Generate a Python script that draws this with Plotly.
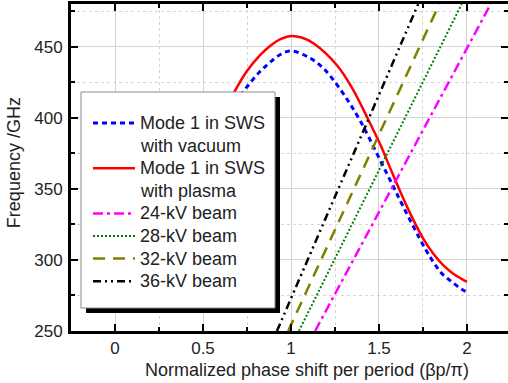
import plotly.graph_objects as go

# ---- data ----
phase_vac = [0.0, 0.25, 0.5, 0.729, 0.824, 0.881, 0.94, 1.0, 1.108, 1.174, 1.222,
             1.316, 1.401, 1.487, 1.563, 1.638, 1.761, 1.809, 1.856, 1.913, 1.97, 2.0]
freq_vac = [278, 311, 372, 418.3, 432.5, 439, 444.5, 447, 442, 436, 429.5,
            413.5, 396.1, 375, 356.2, 337.4, 308.2, 298.5, 290.6, 284.7, 279.3, 277.5]

phase_pl = [0.0, 0.25, 0.5, 0.682, 0.748, 0.824, 0.881, 0.94, 1.0, 1.06, 1.127,
            1.26, 1.354, 1.44, 1.506, 1.581, 1.657, 1.752, 1.809, 1.866,
            1.922, 2.0]
freq_pl = [283, 314.5, 377, 419, 432.5, 444, 450.5, 455.3, 457.5, 456.4, 452.4,
           437.1, 419.5, 398.4, 381.5, 359.5, 338, 314.8, 304.3, 296.1,
           290.3, 284.5]

beam_freq = [250, 480]
beam24_phase = [1.137, 2.135]
beam28_phase = [1.045, 1.970]
beam32_phase = [0.984, 1.843]
beam36_phase = [0.920, 1.723]

series_names = [["Mode 1 in SWS", "with vacuum"], ["Mode 1 in SWS", "with plasma"],
                ["24-kV beam"], ["28-kV beam"], ["32-kV beam"], ["36-kV beam"]]

x_ticks = [0, 0.5, 1, 1.5, 2]
x_ticklabels = ["0", "0.5", "1", "1.5", "2"]
y_ticks = [250, 300, 350, 400, 450]

FONT = "Liberation Sans, Arial, sans-serif"
TXT = "#222222"

styles = [dict(color="#0000FF", width=3, dash="5px,4px"),
          dict(color="#FF0000", width=2.5),
          dict(color="#FF00FF", width=2.5, dash="10px,4px,3px,4px"),
          dict(color="#008000", width=2, dash="2px,2px"),
          dict(color="#808000", width=2.5, dash="12px,8px"),
          dict(color="#000000", width=2.5, dash="8px,4px,2px,4px,2px,4px")]

xs = [phase_vac, phase_pl, beam24_phase, beam28_phase, beam32_phase, beam36_phase]
ys = [freq_vac, freq_pl, beam_freq, beam_freq, beam_freq, beam_freq]

fig = go.Figure()
for i in range(6):
    fig.add_trace(go.Scatter(x=xs[i], y=ys[i], mode="lines",
                             line_shape="spline" if i < 2 else "linear",
                             name="<br>".join(series_names[i]),
                             line=styles[i], showlegend=False))
# helper trace for right-side ticks
fig.add_trace(go.Scatter(x=[None], y=[None], yaxis="y2", showlegend=False,
                         hoverinfo="skip"))

# ---- legend box drawn in paper coordinates (pixel layout converted) ----
PL, PT, PW, PH = 71, 4, 437, 327


def px2x(px):
    return (px - PL) / PW


def py2y(py):
    return (PT + PH - py) / PH


shapes = [
    dict(type="rect", xref="paper", yref="paper", x0=px2x(86), x1=px2x(280),
         y0=py2y(313), y1=py2y(97), fillcolor="black", line=dict(width=0),
         layer="above"),
    dict(type="rect", xref="paper", yref="paper", x0=px2x(81), x1=px2x(275),
         y0=py2y(308), y1=py2y(92), fillcolor="white",
         line=dict(width=1, color="#8a8a8a"), layer="above"),
]
annotations = []
line_y = 123.0
step = 22.6
for i, lines in enumerate(series_names):
    shapes.append(dict(type="line", xref="paper", yref="paper",
                       x0=px2x(93), x1=px2x(135), y0=py2y(line_y), y1=py2y(line_y),
                       line=styles[i], layer="above"))
    for t in lines:
        annotations.append(dict(text=t, xref="paper", yref="paper",
                                x=px2x(138), y=py2y(line_y), xanchor="left",
                                yanchor="middle", showarrow=False,
                                font=dict(size=18, family=FONT, color=TXT)))
        line_y += step

annotations += [
    dict(text="Normalized phase shift per period (βp/π)", xref="paper",
         yref="paper", x=0.539, y=-0.119, xanchor="center", yanchor="middle",
         showarrow=False, font=dict(size=18, family=FONT, color=TXT)),
    dict(text="Frequency /GHz", xref="paper", yref="paper", x=-0.1304, y=0.5134,
         xanchor="center", yanchor="middle", textangle=-90, showarrow=False,
         font=dict(size=18, family=FONT, color=TXT)),
]

fig.update_layout(
    width=508, height=383,
    margin=dict(l=PL, r=0, t=PT, b=383 - PT - PH),
    paper_bgcolor="white", plot_bgcolor="white",
    font=dict(family=FONT, color=TXT),
    showlegend=False,
    xaxis=dict(range=[-0.25, 2.233], tickvals=x_ticks, ticktext=x_ticklabels,
               ticks="inside", ticklen=7, tickwidth=2, tickcolor="black",
               showline=True, linewidth=3, linecolor="black", mirror="ticks",
               showgrid=True, gridcolor="#d4d4d4", gridwidth=1,
               minor=dict(dtick=0.25, tick0=0, ticks="inside", ticklen=4,
                          tickwidth=2, tickcolor="black", showgrid=True,
                          gridcolor="#d4d4d4", griddash="dot"),
               tickfont=dict(size=17, family=FONT, color=TXT),
               zeroline=False),
    yaxis=dict(range=[250, 480], tickvals=y_ticks,
               ticks="inside", ticklen=7, tickwidth=2, tickcolor="black",
               showline=True, linewidth=3, linecolor="black", mirror=False,
               showgrid=True, gridcolor="#d4d4d4", gridwidth=1,
               minor=dict(dtick=25, tick0=250, ticks="inside", ticklen=4,
                          tickwidth=2, tickcolor="black", showgrid=True,
                          gridcolor="#d4d4d4", griddash="dot"),
               tickfont=dict(size=17, family=FONT, color=TXT),
               ticklabelstandoff=2, zeroline=False),
    yaxis2=dict(range=[250, 480], overlaying="y", side="right", anchor="x",
                tickvals=y_ticks, showticklabels=False, ticks="inside",
                ticklen=7, tickwidth=2, tickcolor="black", showline=False,
                showgrid=False, zeroline=False,
                minor=dict(dtick=25, tick0=250, ticks="inside", ticklen=4,
                           tickwidth=2, tickcolor="black")),
    shapes=shapes,
    annotations=annotations,
)

fig.write_html("out.html")
